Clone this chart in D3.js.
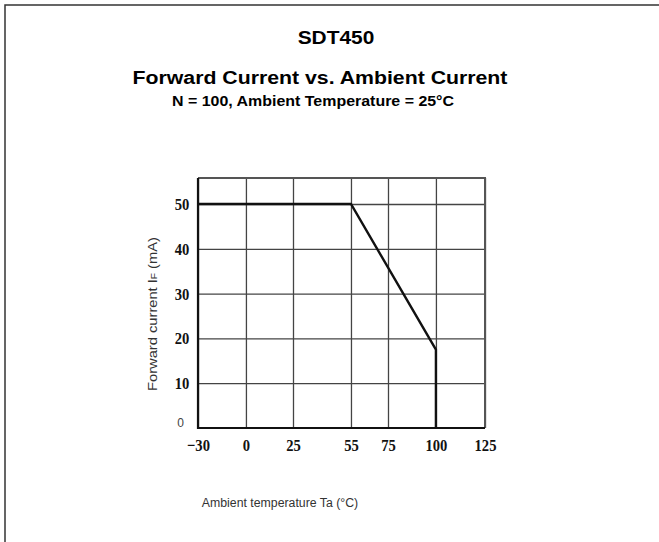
<!DOCTYPE html>
<html>
<head>
<meta charset="utf-8">
<script src="https://cdn.jsdelivr.net/npm/d3@7"></script>
<style>
  body { margin: 0; background: #fff; }
  svg { display: block; }
</style>
</head>
<body>
<svg id="chart"></svg>
<script>
// chart values
const title = 'SDT450';
const subtitle = 'Forward Current vs. Ambient Current';
const note = 'N = 100, Ambient Temperature = 25°C';
const xTicks = [-30, 0, 25, 55, 75, 100, 125];
const yTicks = [0, 10, 20, 30, 40, 50];
const curveTemp = [-30, 55, 100, 100];
const curveCurrent = [50, 50, 17.5, 0];
const yMax = 55.8;

// the printed temperature axis is not evenly spaced: where each tick sits, as share of width
const xTickFrac = [0, 0.167, 0.331, 0.533, 0.662, 0.829, 1];

const W = 659, H = 542;
const margin = { top: 178, left: 198 },
  width = 287,
  height = 250;

const svg = d3.select('#chart').attr('width', W).attr('height', H);

// page frame (only top and left edges show)
svg.append('path')
  .attr('d', 'M5,' + H + 'V5H' + W)
  .attr('fill', 'none')
  .attr('stroke', '#333')
  .attr('stroke-width', 1.5);

// titles
const titles = svg.append('g')
  .attr('font-family', 'Liberation Sans, Arial, sans-serif')
  .attr('font-weight', 'bold')
  .attr('fill', '#000')
  .attr('text-anchor', 'middle');

titles.append('text').attr('transform', 'translate(336,44) scale(1.13,1)')
  .attr('font-size', 18.5).text(title);
titles.append('text').attr('transform', 'translate(320,84) scale(1.15,1)')
  .attr('font-size', 18.5).text(subtitle);
titles.append('text').attr('transform', 'translate(313,106) scale(1.14,1)')
  .attr('font-size', 14).text(note);

const g = svg.append('g')
  .attr('transform', 'translate(' + margin.left + ',' + margin.top + ')');

const x = d3.scaleLinear()
  .domain(xTicks)
  .range(xTickFrac.map(f => f * width));

const y = d3.scaleLinear()
  .domain([0, yMax])
  .range([height, 0]);

// grid
const xGrid = g.append('g')
  .attr('transform', 'translate(0,' + height + ')')
  .call(d3.axisBottom(x).tickValues(xTicks).tickSizeInner(-height).tickSizeOuter(0).tickFormat(''));
xGrid.select('.domain').remove();
xGrid.selectAll('line').attr('stroke', '#444').attr('stroke-width', 1.3);

const yGrid = g.append('g')
  .call(d3.axisLeft(y).tickValues(yTicks.slice(1)).tickSizeInner(-width).tickSizeOuter(0).tickFormat(''));
yGrid.select('.domain').remove();
yGrid.selectAll('line').attr('stroke', '#444').attr('stroke-width', 1.3);

// frame: top and right lighter, left and bottom heavy
g.append('path')
  .attr('d', 'M0,0H' + width + 'V' + height)
  .attr('fill', 'none')
  .attr('stroke', '#555')
  .attr('stroke-width', 2);
g.append('path')
  .attr('d', 'M0,0V' + height + 'H' + width)
  .attr('fill', 'none')
  .attr('stroke', '#111')
  .attr('stroke-width', 2.2);

// derating curve
const line = d3.line()
  .x(i => x(curveTemp[i]))
  .y(i => y(curveCurrent[i]));

g.append('path')
  .datum(d3.range(curveTemp.length))
  .attr('d', line)
  .attr('fill', 'none')
  .attr('stroke', '#111')
  .attr('stroke-width', 2.4)
  .attr('stroke-linejoin', 'miter');

// tick labels (tall, narrow bold serif)
const xLab = g.append('g')
  .attr('transform', 'translate(0,' + height + ')')
  .call(d3.axisBottom(x).tickValues(xTicks).tickSize(0).tickPadding(11)
    .tickFormat(d => d < 0 ? '\u2212' + (-d) : d));
xLab.select('.domain').remove();
xLab.selectAll('text')
  .attr('font-family', 'Liberation Serif, DejaVu Serif, serif')
  .attr('font-weight', 'bold')
  .attr('font-size', 17)
  .attr('transform', 'scale(0.86,1)')
  .attr('fill', '#111');

const yLab = g.append('g')
  .call(d3.axisLeft(y).tickValues(yTicks).tickSize(0).tickPadding(10));
yLab.select('.domain').remove();
yLab.selectAll('text')
  .attr('font-family', 'Liberation Serif, DejaVu Serif, serif')
  .attr('font-weight', 'bold')
  .attr('font-size', 17)
  .attr('transform', 'scale(0.86,1)')
  .attr('fill', '#111');
// zero label is set in the plain face, sitting on the axis
yLab.selectAll('.tick').filter(d => d === 0).select('text')
  .attr('font-family', 'Liberation Sans, Arial, sans-serif')
  .attr('font-weight', 'normal')
  .attr('font-size', 12)
  .attr('transform', null)
  .attr('fill', '#444')
  .attr('x', -14)
  .attr('dy', '-0.1em');

// axis titles
svg.append('text')
  .attr('transform', 'translate(280,507)')
  .attr('text-anchor', 'middle')
  .attr('font-family', 'Liberation Sans, Arial, sans-serif')
  .attr('font-size', 12.3)
  .attr('fill', '#333')
  .text('Ambient temperature Ta (°C)');

const yTitle = svg.append('text')
  .attr('transform', 'translate(157,314) rotate(-90) scale(1.13,1)')
  .attr('text-anchor', 'middle')
  .attr('font-family', 'Liberation Sans, Arial, sans-serif')
  .attr('font-size', 13)
  .attr('fill', '#333');
yTitle.append('tspan').text('Forward current I');
yTitle.append('tspan').attr('font-size', 9).text('F');
yTitle.append('tspan').text(' (mA)');
</script>
</body>
</html>
